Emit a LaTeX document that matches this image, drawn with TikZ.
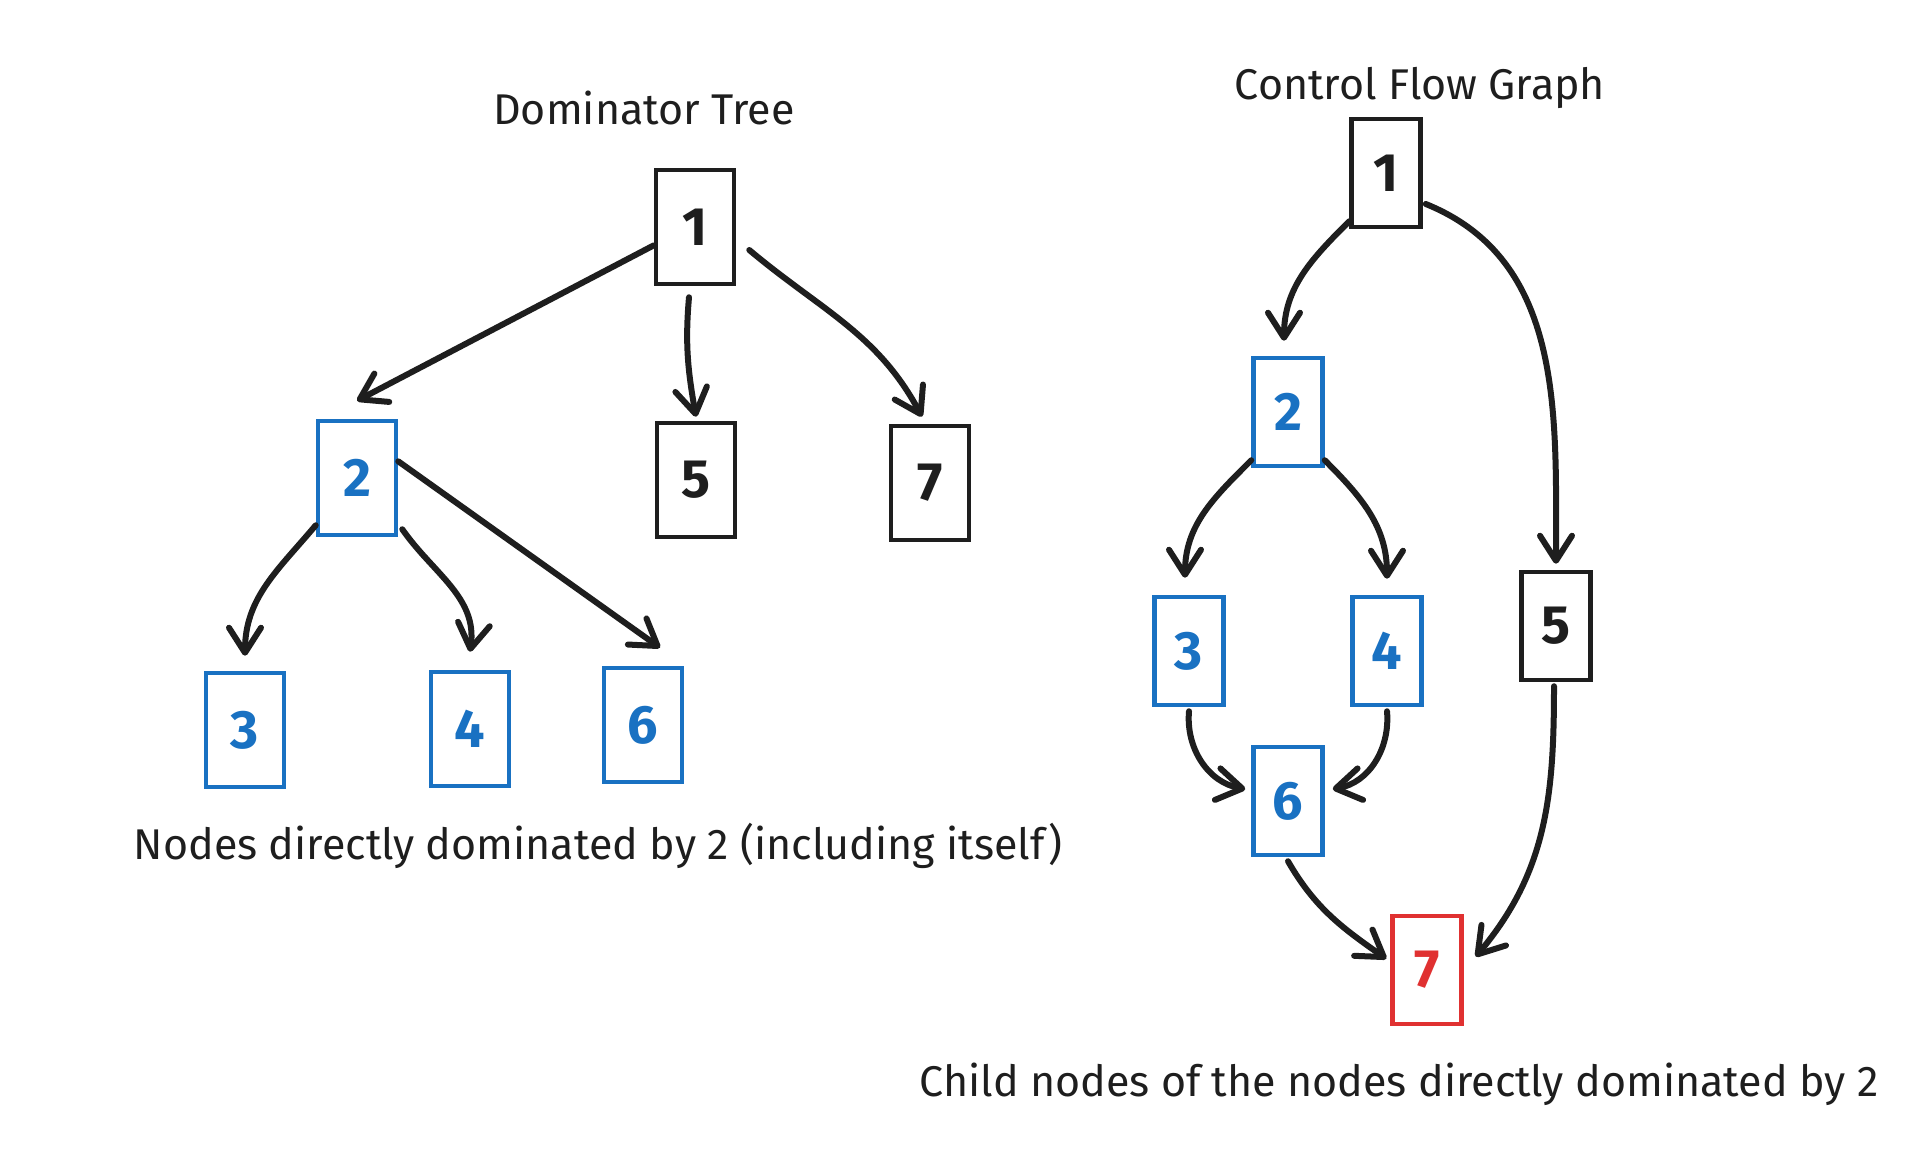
\documentclass[tikz,border=0pt]{standalone}
\usepackage{fontspec}
\setmainfont{Fira Sans}
\usepackage{tikz}
\usetikzlibrary{arrows.meta, positioning, calc}

\definecolor{colInk}{HTML}{1E1E1E}
\definecolor{colBlue}{HTML}{1971C2}
\definecolor{colRed}{HTML}{E03131}

\tikzset{
    blk/.style={draw=colInk, line width=4.5pt, inner sep=0pt,
        minimum width=78pt, minimum height=114pt, text=colInk,
        font=\fontsize{54}{58}\selectfont\bfseries},
    cblk/.style={blk, minimum width=69pt, minimum height=108pt},
    flow/.style={draw=colInk, line width=6pt, line cap=round,
        -{Straight Barb[length=25pt, width=32pt, round]}},
    heading/.style={text=colInk, font=\fontsize{43}{48}\selectfont},
}

\begin{document}
\begin{tikzpicture}[x=1pt, y=1pt]
    \useasboundingbox (0,0) rectangle (1923,1165);

    % --- Dominator Tree ---
    \node[heading] (dtitle) at (644, 1057) {Dominator Tree};
    \node[blk] (d1) at (695, 938) {1};
    \node[blk, draw=colBlue, text=colBlue] (d2) at (357, 687) {2};
    \node[blk] (d5) at (696, 685) {5};
    \node[blk] (d7) at (930, 682) {7};
    \foreach \n/\x/\y in {3/245/435, 4/470/436, 6/643/440} {
        \node[blk, draw=colBlue, text=colBlue] (d\n) at (\x, \y) {\n};
    }
    \node[heading] (dnote) at (598, 319) {Nodes directly dominated by 2 (including itself)};

    % Kanten im Baum
    \draw[flow] (d1.204) -- ([yshift=18pt]d2.north);
    \draw[flow] ([xshift=-6pt, yshift=-11pt]d1.south) to[out=-95, in=100] ([yshift=4pt]d5.north);
    \draw[flow] ([xshift=13pt, yshift=-23pt]d1.east) to[out=-40, in=118] ([xshift=-8pt, yshift=7pt]d7.north);
    \draw[flow] ([yshift=12pt]d2.south west) to[out=-130, in=90] ([yshift=15pt]d3.north);
    \draw[flow] ([xshift=4pt, yshift=8pt]d2.south east) to[out=-55, in=82] ([yshift=18pt]d4.north);
    \draw[flow] (d2.22) -- ([xshift=17pt, yshift=18pt]d6.north);

    % --- Control Flow Graph ---
    \node[heading] (ctitle) at (1420, 1077) {Control Flow Graph};
    \node[cblk] (c1) at (1386, 992) {1};
    \node[cblk] (c5) at (1556, 539) {5};
    \foreach \n/\x/\y in {2/1288/753, 3/1189/514, 4/1387/514, 6/1288/364} {
        \node[cblk, draw=colBlue, text=colBlue] (c\n) at (\x, \y) {\n};
    }
    \node[cblk, draw=colRed, text=colRed] (c7) at (1427, 195) {7};
    \node[heading] (cnote) at (1399, 81) {Child nodes of the nodes directly dominated by 2};

    % Kanten im Graphen
    \draw[flow] ([yshift=8pt]c1.south west) to[out=-135, in=90] ([xshift=-4pt, yshift=15pt]c2.north);
    \draw[flow] ([xshift=3pt, yshift=-31pt]c1.east) to[out=-22, in=90] ([yshift=6pt]c5.north);
    \draw[flow] ([yshift=8pt]c2.south west) to[out=-135, in=90] ([xshift=-4pt, yshift=17pt]c3.north);
    \draw[flow] ([yshift=8pt]c2.south east) to[out=-45, in=90] ([yshift=16pt]c4.north);
    \draw[flow] ([yshift=-4pt]c3.south) to[out=-95, in=170] ([xshift=-6pt]c6.162);
    \draw[flow] ([yshift=-4pt]c4.south) to[out=-85, in=10] ([xshift=8pt]c6.18);
    \draw[flow] ([yshift=-4pt]c6.south) to[out=-60, in=145] ([xshift=-4pt]c7.163);
    \draw[flow] ([xshift=-2pt, yshift=-4pt]c5.south) to[out=-90, in=50] ([xshift=12pt]c7.20);
\end{tikzpicture}
\end{document}
